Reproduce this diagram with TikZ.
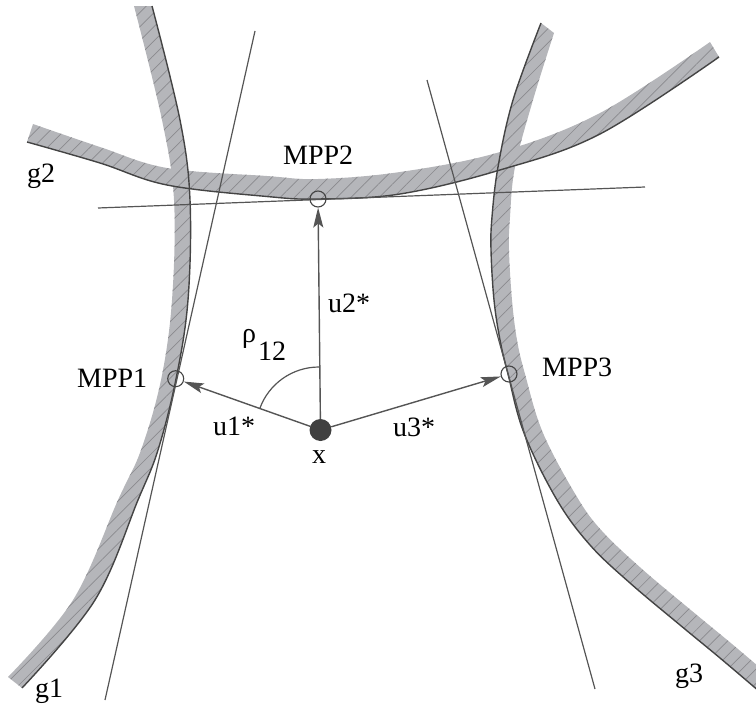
\documentclass[tikz,border=0pt]{standalone}
\usepackage{fontspec}
\setmainfont{Liberation Serif}
\newfontfamily\labelfont{Liberation Serif}
\usetikzlibrary{arrows.meta,patterns.meta,calc}
\definecolor{bandgray}{RGB}{181,182,186}
\definecolor{hatchgray}{RGB}{138,138,142}
\definecolor{edgegray}{RGB}{68,68,68}
\definecolor{linegray}{RGB}{85,85,85}
\definecolor{dotgray}{RGB}{64,64,64}
\begin{document}
\begin{tikzpicture}[x=1pt,y=-1pt,
  band/.style={fill=bandgray,postaction={pattern={Lines[angle=45,distance=10pt,line width=0.7pt]},pattern color=hatchgray}},
  edgeline/.style={draw=edgegray,line width=1.4pt},
  tangent/.style={draw=linegray,line width=1.2pt},
  vec/.style={draw=linegray,line width=1.4pt,-{Stealth[length=20pt,width=10pt,inset=4pt]}},
  mpp/.style={circle,draw=edgegray,line width=1.1pt,minimum size=16pt,inner sep=0pt},
  lbl/.style={font=\labelfont\fontsize{28}{33}\selectfont,inner sep=0pt,anchor=base west,text=black},
]
\useasboundingbox (0,0) rectangle (756,704);
% bands
\path[band] plot[smooth,tension=0.6] coordinates {(33,124) (100,147) (167,168) (267,176) (318,179) (400,172) (500,152) (600,113) (710,42)}
  -- plot[smooth,tension=0.6] coordinates {(719,57) (600,134) (500,170) (400,194) (318,199) (267,196.5) (167,185) (100,163) (27,142)} -- cycle;
\path[band] plot[smooth,tension=0.6] coordinates {(134,6) (162,120) (174,200) (172,300) (161,380) (141,450) (118,500) (73,600) (8,677)}
  -- plot[smooth,tension=0.6] coordinates {(22,688) (95,600) (138,500) (158,450) (176,379) (188,300) (190,200) (180,120) (152,6)} -- cycle;
\path[band] plot[smooth,tension=0.6] coordinates {(541,23) (513,100) (498,167) (492,217) (491,250) (494,300) (500,340) (508,374) (524,433) (557,500) (590,545) (630,583) (680,625) (720,658) (760,692)}
  -- plot[smooth,tension=0.6] coordinates {(772,678) (732,644) (692,611) (642,569) (602,531) (577,497) (543,433) (525,374) (517,340) (512,300) (509,250) (510,217) (515,167) (533,100) (554,33)} -- cycle;
% dark edges
\draw[edgeline] plot[smooth,tension=0.6] coordinates {(27,142) (100,163) (167,185) (267,196.5) (318,199) (400,194) (500,170) (600,134) (719,57)};
\draw[edgeline] plot[smooth,tension=0.6] coordinates {(152,6) (180,120) (190,200) (188,300) (176,379) (158,450) (138,500) (95,600) (22,688)};
\draw[edgeline] plot[smooth,tension=0.6] coordinates {(541,23) (513,100) (498,167) (492,217) (491,250) (494,300) (500,340) (508,374) (524,433) (557,500) (590,545) (630,583) (680,625) (720,658) (760,692)};
% tangent lines
\coordinate (t1a) at (255,31);  \coordinate (t1b) at (105,700);
\coordinate (t2a) at (98,208);  \coordinate (t2b) at (645,187);
\coordinate (t3a) at (427,80);  \coordinate (t3b) at (595,689);
\draw[tangent] (t1a) -- (t1b);
\draw[tangent] (t2a) -- (t2b);
\draw[tangent] (t3a) -- (t3b);
% points
\node[mpp] (m1) at (175.7,378.7) {};
\node[mpp] (m2) at (318,199) {};
\node[mpp] (m3) at (509,374) {};
\node[circle,fill=dotgray,minimum size=22pt,inner sep=0pt] (x) at (320.5,430) {};
% vectors
\draw[vec] (x) -- (m1);
\draw[vec] (x) -- (m2);
\draw[vec] (x) -- (m3);
% angle arc
\draw[linegray,line width=1.2pt] (x.center) ++(-1.5,-63) arc[start angle=90,end angle=160.4,radius=63pt];
% labels
\node[lbl] (lm1) at (77,387) {MPP1};
\node[lbl] (lm2) at (283,164) {MPP2};
\node[lbl] (lm3) at (542,376) {MPP3};
\node[lbl] (lu1) at (213,435) {u1*};
\node[lbl] (lu2) at (328,312) {u2*};
\node[lbl] (lu3) at (393,436) {u3*};
\node[lbl] (lx) at (312,463) {x};
\node[lbl] (lrho) at (242,342) {ρ};
\node[lbl] (l12) at (258,360) {12};
\node[lbl] (lg1) at (35,697) {g1};
\node[lbl] (lg2) at (27,182) {g2};
\node[lbl] (lg3) at (675,682) {g3};
\end{tikzpicture}
\end{document}
